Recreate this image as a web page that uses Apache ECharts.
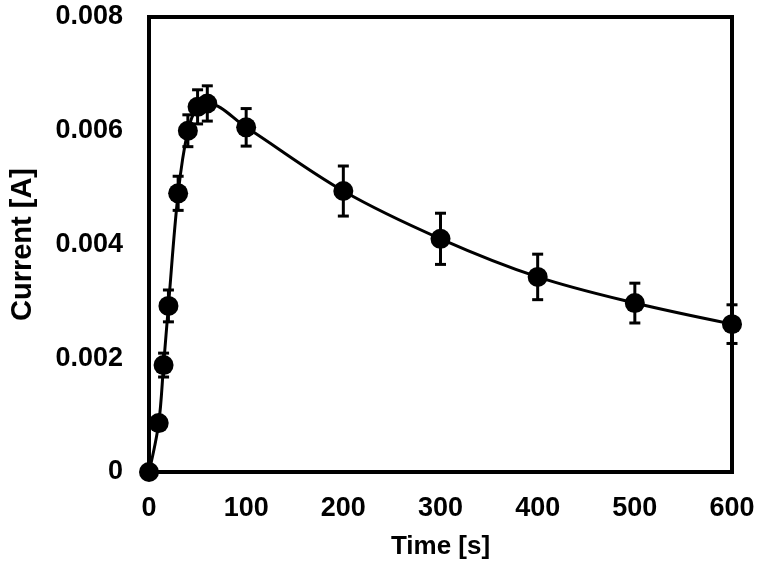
<!DOCTYPE html>
<html>
<head>
<meta charset="utf-8">
<title>Current vs Time</title>
<script src="https://cdn.jsdelivr.net/npm/echarts@6/dist/echarts.min.js"></script>
<style>
  html, body { margin: 0; padding: 0; background: #fff; }
  #chart { width: 760px; height: 565px; }
</style>
</head>
<body>
<div id="chart"></div>
<script>
// time points [s]
const times = [0, 10, 15, 20, 30, 40, 50, 60, 100, 200, 300, 400, 500, 600]
// mean current [A]
const current = [0, 0.00086, 0.00188, 0.00292, 0.0049, 0.006, 0.00642, 0.00648, 0.00606, 0.00494, 0.0041, 0.00343, 0.00297, 0.0026]
// +/- error [A]
const errors = [0, 0.00008, 0.00021, 0.00028, 0.0003, 0.00028, 0.0003, 0.00031, 0.00033, 0.00044, 0.00045, 0.0004, 0.00035, 0.00034]
const xTicks = [0, 100, 200, 300, 400, 500, 600]
const yTicks = [0, 0.002, 0.004, 0.006, 0.008]

const font = "'Liberation Sans', Arial, sans-serif"

const lineData = times.map((t, i) => [t, current[i]])
const errData = times.map((t, i) => [t, current[i] - errors[i], current[i] + errors[i]])

const chart = echarts.init(document.getElementById('chart'), null, { renderer: 'canvas' })

const renderErrorBar = (params, api) => {
  const x = api.value(0)
  const lo = api.coord([x, api.value(1)])
  const hi = api.coord([x, api.value(2)])
  const half = 5.5
  const style = { stroke: '#000', lineWidth: 3 }
  return {
    type: 'group',
    children: [
      { type: 'line', shape: { x1: lo[0], y1: lo[1], x2: hi[0], y2: hi[1] }, style },
      { type: 'line', shape: { x1: lo[0] - half, y1: lo[1], x2: lo[0] + half, y2: lo[1] }, style },
      { type: 'line', shape: { x1: hi[0] - half, y1: hi[1], x2: hi[0] + half, y2: hi[1] }, style }
    ]
  }
}

const option = {
  animation: false,
  grid: {
    left: 145, right: 28, top: 17, bottom: 93,
    show: true, borderColor: '#000', borderWidth: 4, backgroundColor: '#fff'
  },
  xAxis: {
    type: 'value',
    min: 0, max: 600, interval: 100,
    name: 'Time [s]',
    nameLocation: 'middle',
    nameGap: 62,
    nameTextStyle: { color: '#000', fontFamily: font, fontWeight: 'bold', fontSize: 26 },
    axisLine: { show: false },
    axisTick: { show: false },
    splitLine: { show: false },
    axisLabel: {
      color: '#000', fontFamily: font, fontWeight: 'bold', fontSize: 27, margin: 23,
      formatter: v => xTicks.includes(v) ? String(v) : ''
    }
  },
  yAxis: {
    type: 'value',
    min: 0, max: 0.008, interval: 0.002,
    name: 'Current [A]',
    nameLocation: 'middle',
    nameGap: 112,
    nameTextStyle: { color: '#000', fontFamily: font, fontWeight: 'bold', fontSize: 29 },
    axisLine: { show: false },
    axisTick: { show: false },
    splitLine: { show: false },
    axisLabel: {
      color: '#000', fontFamily: font, fontWeight: 'bold', fontSize: 27, margin: 26,
      formatter: v => {
        const t = yTicks.find(y => Math.abs(y - v) < 1e-9)
        if (t === undefined) return ''
        return t === 0 ? '0' : t.toFixed(3)
      }
    }
  },
  series: [
    {
      type: 'custom',
      renderItem: renderErrorBar,
      data: errData,
      clip: false,
      z: 3
    },
    {
      type: 'line',
      data: lineData,
      smooth: 0.35,
      clip: false,
      symbol: 'circle',
      symbolSize: 20,
      lineStyle: { color: '#000', width: 3 },
      itemStyle: { color: '#000' },
      z: 4
    }
  ]
}

chart.setOption(option)
</script>
</body>
</html>
